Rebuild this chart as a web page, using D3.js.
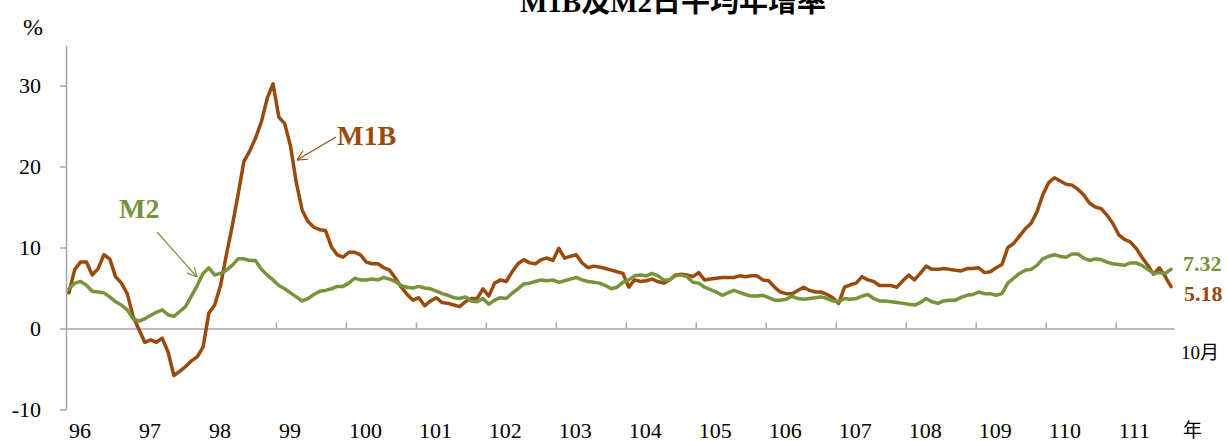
<!DOCTYPE html>
<html>
<head>
<meta charset="utf-8">
<script src="https://cdn.jsdelivr.net/npm/d3@7"></script>
<style>
  html, body { margin: 0; padding: 0; background: #fff; }
  svg { display: block; }
  text { font-family: "Liberation Serif", "Times New Roman", "Noto Sans CJK TC", serif; }
</style>
</head>
<body>
<svg id="chart" width="1227" height="441"></svg>
<script>
// ---- Data (monthly, Jan 96 .. Oct 111) ----
const yearLabels = ["96","97","98","99","100","101","102","103","104","105","106","107","108","109","110","111"];
const monthsPerYear = 12;
const lastMonth = 10;
const categories = [];
yearLabels.forEach((yr, yi) => {
  const n = yi === yearLabels.length - 1 ? lastMonth : monthsPerYear;
  for (let m = 1; m <= n; m++) categories.push(yr + "/" + String(m).padStart(2, "0"));
});

const m1b = [
  4.4, 7.3, 8.2, 8.2, 6.6, 7.4, 9.1, 8.6, 6.4, 5.6, 4.3, 1.5,
  -0.1, -1.7, -1.4, -1.7, -1.2, -2.9, -5.8, -5.3, -4.7, -4.0, -3.5, -2.3,
  1.9, 2.9, 5.3, 9.1, 12.6, 16.5, 20.6, 21.9, 23.5, 25.5, 28.4, 30.2,
  26.1, 25.3, 22.5, 18.0, 14.6, 13.2, 12.5, 12.2, 12.1, 10.1, 9.1, 8.8,
  9.4, 9.4, 9.1, 8.2, 8.0, 8.0, 7.5, 7.2, 6.2, 5.1, 4.2, 3.5,
  3.8, 2.8, 3.4, 3.8, 3.2, 3.1, 2.9, 2.7, 3.3, 3.7, 3.7, 4.9,
  4.0, 5.6, 6.0, 5.8, 7.0, 8.0, 8.5, 8.1, 8.0, 8.5, 8.7, 8.4,
  9.9, 8.7, 8.9, 9.1, 8.1, 7.5, 7.7, 7.6, 7.4, 7.2, 7.0, 6.8,
  5.1, 6.0, 5.8, 5.9, 6.1, 5.8, 5.6, 6.0, 6.6, 6.7, 6.6, 6.4,
  6.9, 6.0, 6.1, 6.2, 6.3, 6.3, 6.3, 6.5, 6.4, 6.5, 6.5, 6.0,
  5.9, 5.1, 4.5, 4.3, 4.3, 4.7, 5.1, 4.7, 4.5, 4.5, 4.2, 3.8,
  3.1, 5.1, 5.4, 5.6, 6.4, 6.0, 5.8, 5.3, 5.3, 5.3, 5.1, 5.9,
  6.6, 6.0, 6.8, 7.7, 7.3, 7.3, 7.4, 7.3, 7.2, 7.1, 7.4, 7.4,
  7.5, 6.9, 7.0, 7.5, 7.9, 10.0, 10.5, 11.4, 12.3, 13.0, 14.4, 16.5,
  18.0, 18.6, 18.2, 17.8, 17.7, 17.2, 16.5, 15.5, 15.0, 14.8, 14.0, 13.0,
  11.6, 11.0, 10.7, 9.9, 8.8, 7.8, 6.7, 7.5, 6.4, 5.18
];

const m2 = [
  4.9, 5.6, 5.8, 5.35, 4.6, 4.5, 4.4, 3.9, 3.3, 2.9, 2.3, 1.2,
  0.9, 1.2, 1.6, 2.0, 2.3, 1.7, 1.5, 2.1, 2.7, 4.0, 5.3, 6.8,
  7.5, 6.6, 6.8, 7.2, 7.8, 8.6, 8.6, 8.4, 8.4, 7.3, 6.6, 6.0,
  5.3, 4.9, 4.4, 3.9, 3.4, 3.7, 4.2, 4.6, 4.7, 4.9, 5.2, 5.2,
  5.6, 6.2, 6.0, 6.0, 6.1, 6.0, 6.3, 6.1, 5.8, 5.3, 5.1, 5.0,
  5.2, 5.0, 4.9, 4.6, 4.3, 4.1, 3.8, 3.7, 3.9, 3.4, 3.3, 3.7,
  3.0, 3.5, 3.8, 3.7, 4.35, 4.9, 5.5, 5.6, 5.8, 6.0, 5.9, 6.0,
  5.7, 5.9, 6.1, 6.3, 6.0, 5.8, 5.7, 5.6, 5.3, 4.9, 5.1, 5.7,
  6.0, 6.5, 6.6, 6.5, 6.8, 6.5, 6.0, 6.0, 6.5, 6.6, 6.4, 5.7,
  5.6, 5.1, 4.8, 4.5, 4.1, 4.4, 4.7, 4.45, 4.2, 4.0, 4.0, 4.1,
  3.8, 3.5, 3.5, 3.6, 4.0, 3.7, 3.6, 3.7, 3.8, 3.9, 3.7, 3.4,
  3.3, 3.7, 3.6, 3.7, 4.0, 4.2, 3.7, 3.4, 3.4, 3.3, 3.2, 3.1,
  3.0, 2.9, 3.2, 3.7, 3.3, 3.1, 3.4, 3.5, 3.5, 3.85, 4.1, 4.2,
  4.5, 4.3, 4.3, 4.1, 4.3, 5.6, 6.2, 6.8, 7.2, 7.3, 7.8, 8.6,
  8.9, 9.1, 8.9, 8.8, 9.2, 9.2, 8.7, 8.4, 8.6, 8.5, 8.2, 8.0,
  7.9, 7.8, 8.1, 8.1, 7.8, 7.3, 6.8, 6.9, 6.8, 7.32
];

const yTicks = [-10, 0, 10, 20, 30];

// ---- Styles ----
const colM1B = "#9A4A0B";
const colM2 = "#77933C";
const axisGray = "#A6A6A6";

const svg = d3.select("#chart");

const x = d3.scaleBand().domain(d3.range(categories.length)).range([66, 1174]);
const xc = i => x(i) + x.bandwidth() / 2;
const xEdge = d3.scaleLinear().domain([0, categories.length]).range([66, 1174]);
const y = d3.scaleLinear().domain([-10, 35]).range([409.5, 45]);

// Title
svg.append("text")
  .attr("x", 673).attr("y", 12)
  .attr("text-anchor", "middle")
  .attr("font-size", 29).attr("font-weight", "bold")
  .attr("fill", "#000")
  .text("M1B及M2日平均年增率");

// Y axis
const yAxis = d3.axisLeft(y).tickValues(yTicks).tickSize(6).tickSizeOuter(0).tickPadding(19)
  .tickFormat(d => String(d));
const gy = svg.append("g").attr("transform", "translate(66,0)").call(yAxis);
gy.select(".domain").attr("stroke", axisGray).attr("stroke-width", 1.5);
gy.selectAll(".tick line").attr("stroke", axisGray).attr("stroke-width", 1.5);
gy.selectAll(".tick text").attr("font-size", 22).attr("fill", "#000")
  .attr("font-family", "Liberation Serif, Times New Roman, serif");

// Zero-line category axis with upward ticks at year boundaries
const yearStarts = d3.range(monthsPerYear, categories.length, monthsPerYear);
const xAxis = d3.axisBottom(xEdge).tickValues(yearStarts).tickSize(-6).tickSizeOuter(0).tickFormat("");
const gx = svg.append("g").attr("transform", `translate(0,${y(0)})`).call(xAxis);
gx.select(".domain").attr("stroke", axisGray).attr("stroke-width", 1.5);
gx.selectAll(".tick line").attr("stroke", axisGray).attr("stroke-width", 1.5);

// Year labels
svg.append("g").selectAll("text").data(yearLabels).join("text")
  .attr("x", (d, i) => xEdge(i * monthsPerYear) + 3)
  .attr("y", 438)
  .attr("font-size", 22)
  .attr("fill", "#000")
  .text(d => d);

// Lines
const line = d3.line().x((d, i) => xc(i)).y(d => y(d)).curve(d3.curveLinear);
svg.append("path").datum(m1b).attr("d", line)
  .attr("fill", "none").attr("stroke", colM1B).attr("stroke-width", 3.5)
  .attr("stroke-linejoin", "round").attr("stroke-linecap", "round");
svg.append("path").datum(m2).attr("d", line)
  .attr("fill", "none").attr("stroke", colM2).attr("stroke-width", 3.5)
  .attr("stroke-linejoin", "round").attr("stroke-linecap", "round");

// Arrow markers
const defs = svg.append("defs");
function marker(id, color) {
  defs.append("marker").attr("id", id)
    .attr("viewBox", "0 0 10 10").attr("refX", 10).attr("refY", 5)
    .attr("markerWidth", 10).attr("markerHeight", 10).attr("markerUnits", "userSpaceOnUse")
    .attr("orient", "auto")
    .append("path").attr("d", "M0,0 L10,5 L0,10")
    .attr("fill", "none").attr("stroke", color).attr("stroke-width", 1.2);
}
marker("arrM1B", colM1B);
marker("arrM2", colM2);

// M1B annotation
svg.append("line").attr("x1", 336).attr("y1", 137).attr("x2", 297).attr("y2", 160)
  .attr("stroke", colM1B).attr("stroke-width", 1.2).attr("marker-end", "url(#arrM1B)");
svg.append("text").attr("x", 337).attr("y", 145)
  .attr("font-size", 28).attr("font-weight", "bold").attr("fill", colM1B).text("M1B");

// M2 annotation
svg.append("line").attr("x1", 157).attr("y1", 232).attr("x2", 197).attr("y2", 277)
  .attr("stroke", colM2).attr("stroke-width", 1.2).attr("marker-end", "url(#arrM2)");
svg.append("text").attr("x", 119).attr("y", 218)
  .attr("font-size", 28).attr("font-weight", "bold").attr("fill", colM2).text("M2");

// End value labels
svg.append("text").attr("x", 1183).attr("y", 271)
  .attr("font-size", 22).attr("font-weight", "bold").attr("fill", colM2)
  .text(m2[m2.length - 1].toFixed(2));
svg.append("text").attr("x", 1184).attr("y", 301)
  .attr("font-size", 22).attr("font-weight", "bold").attr("fill", colM1B)
  .text(m1b[m1b.length - 1].toFixed(2));

// Unit / misc labels
svg.append("text").attr("x", 23).attr("y", 35).attr("font-size", 24).attr("fill", "#000").text("%");
svg.append("text").attr("x", 1181).attr("y", 359).attr("font-size", 19).attr("fill", "#000").text("10月");
svg.append("text").attr("x", 1183).attr("y", 437).attr("font-size", 19).attr("fill", "#000").text("年");
</script>
</body>
</html>
